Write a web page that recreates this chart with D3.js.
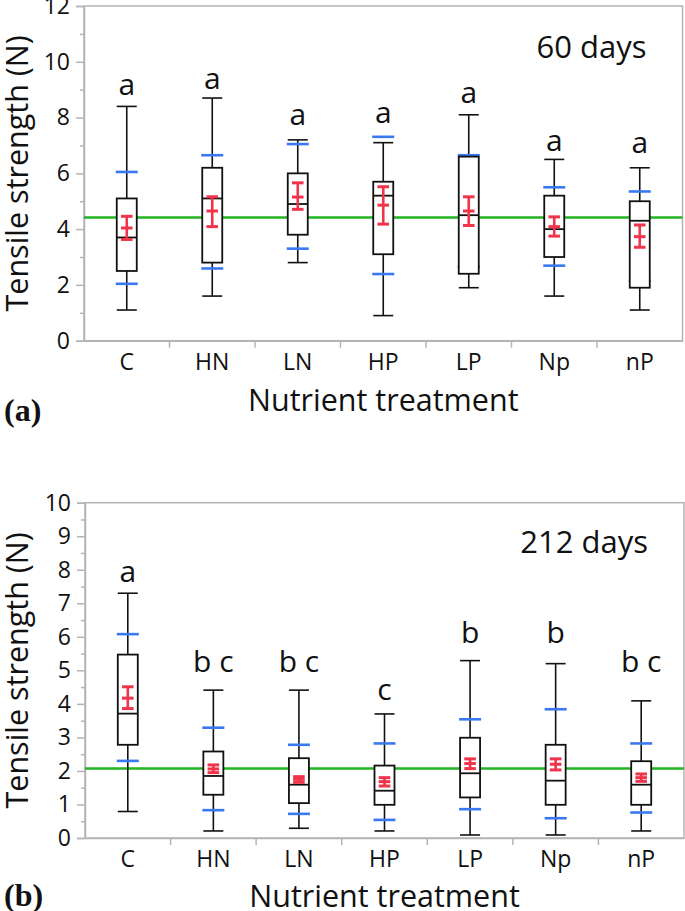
<!DOCTYPE html>
<html>
<head>
<meta charset="utf-8">
<script src="https://cdn.jsdelivr.net/npm/d3@7"></script>
<style>
  body { margin: 0; background: #fff; }
  text { font-family: "Open Sans", "Noto Sans", sans-serif; fill: #111; }
</style>
</head>
<body>
<script>
// tensile strength box plots, two sampling dates

var treatments = ["C", "HN", "LN", "HP", "LP", "Np", "nP"];

// 60 days
var lo60     = [1.1, 1.6, 2.8, 0.9, 1.9, 1.6, 1.1];
var q1_60    = [2.5, 2.8, 3.8, 3.1, 2.4, 3.0, 1.9];
var med60    = [3.7, 5.1, 4.9, 5.2, 4.5, 4.0, 4.3];
var q3_60    = [5.1, 6.2, 6.0, 5.7, 6.6, 5.2, 5.0];
var hi60     = [8.4, 8.7, 7.2, 7.1, 8.1, 6.5, 6.2];
var sdLo60   = [2.04, 2.59, 3.3, 2.39, 2.65, 2.69, 2.15];
var sdHi60   = [6.05, 6.65, 7.05, 7.31, 6.65, 5.5, 5.35];
var mean60   = [4.04, 4.65, 5.15, 4.86, 4.65, 4.09, 3.73];
var seLo60   = [3.63, 4.09, 4.71, 4.18, 4.13, 3.75, 3.35];
var seHi60   = [4.46, 5.16, 5.66, 5.52, 5.16, 4.44, 4.15];
var letters60 = ["a", "a", "a", "a", "a", "a", "a"];
var letterAt60 = [8.8, 9.02, 7.73, 7.79, 8.53, 6.81, 6.74];
var grand60 = 4.42;
var yTicks60 = [0, 2, 4, 6, 8, 10, 12];
var yMinor60 = [1, 3, 5, 7, 9, 11];

// 212 days
var lo212    = [0.79, 0.21, 0.29, 0.21, 0.09, 0.09, 0.21];
var q1_212   = [2.78, 1.29, 1.04, 0.99, 1.21, 0.99, 0.99];
var med212   = [3.71, 1.85, 1.59, 1.41, 1.93, 1.71, 1.59];
var q3_212   = [5.47, 2.58, 2.38, 2.16, 2.99, 2.78, 2.29];
var hi212    = [7.3, 4.41, 4.41, 3.7, 5.29, 5.2, 4.09];
var sdLo212  = [2.3, 0.83, 0.72, 0.54, 0.86, 0.59, 0.76];
var sdHi212  = [6.08, 3.29, 2.78, 2.82, 3.54, 3.84, 2.82];
var mean212  = [4.17, 2.06, 1.75, 1.68, 2.22, 2.2, 1.8];
var seLo212  = [3.86, 1.95, 1.66, 1.55, 2.07, 2.03, 1.69];
var seHi212  = [4.51, 2.18, 1.83, 1.8, 2.36, 2.36, 1.91];
var letters212 = ["a", "b c", "b c", "c", "b", "b", "b c"];
var letterAt212 = [7.64, 4.96, 4.96, 4.12, 5.81, 5.81, 4.96];
var grand212 = 2.07;
var yTicks212 = [0, 1, 2, 3, 4, 5, 6, 7, 8, 9, 10];
var yMinor212 = [0.5, 1.5, 2.5, 3.5, 4.5, 5.5, 6.5, 7.5, 8.5, 9.5];

var svg = d3.select("body").append("svg").attr("width", 685).attr("height", 911);

function drawPanel(p) {
  var x = d3.scaleBand().domain(treatments).range([p.left, p.right]);
  var y = d3.scaleLinear().domain([0, p.yMax]).range([p.bottom, p.top]);
  var g = svg.append("g");
  var cx = function(i){ return x(treatments[i]) + x.bandwidth() / 2; };
  var grey = "#b4b4b4";

  // frame
  g.append("rect").attr("x", p.left).attr("y", p.top)
    .attr("width", p.right - p.left).attr("height", p.bottom - p.top)
    .attr("fill", "none").attr("stroke", grey).attr("stroke-width", 1.5);

  // y axis
  var yAxis = d3.axisLeft(y).tickValues(p.ticks).tickSize(8).tickPadding(6).tickFormat(d3.format("d"));
  var ya = g.append("g").attr("transform", "translate(" + p.left + ",0)").call(yAxis);
  ya.select(".domain").attr("stroke", grey).attr("stroke-width", 1.5);
  ya.selectAll(".tick line").attr("stroke", grey).attr("stroke-width", 1.5);
  ya.selectAll(".tick text").style("font-size", "23px").attr("fill", "#111");
  var ym = g.append("g").attr("transform", "translate(" + p.left + ",0)")
    .call(d3.axisLeft(y).tickValues(p.minor).tickSize(4).tickFormat(""));
  ym.select(".domain").remove();
  ym.selectAll(".tick line").attr("stroke", grey).attr("stroke-width", 1.5);

  // x axis: ticks on the category boundaries
  var xa = g.append("g").attr("transform", "translate(0," + p.bottom + ")")
    .call(d3.axisBottom(x).tickSize(0).tickPadding(13));
  xa.select(".domain").attr("stroke", grey).attr("stroke-width", 1.5);
  xa.selectAll(".tick text").style("font-size", "23px").attr("fill", "#111")
    .attr("dy", "0.71em");
  g.selectAll(".xsep").data(treatments.slice(1)).enter().append("line")
    .attr("x1", function(d){ return x(d); }).attr("x2", function(d){ return x(d); })
    .attr("y1", p.bottom).attr("y2", p.bottom + 7)
    .attr("stroke", grey).attr("stroke-width", 1.5);

  // grand mean
  g.append("line").attr("x1", p.left).attr("x2", p.right)
    .attr("y1", y(p.grand)).attr("y2", y(p.grand))
    .attr("stroke", "#22b422").attr("stroke-width", 2.5);

  var idx = d3.range(treatments.length);

  // whiskers
  g.selectAll(".whisk").data(idx).enter().append("line")
    .attr("x1", cx).attr("x2", cx)
    .attr("y1", function(i){ return y(p.lo[i]); }).attr("y2", function(i){ return y(p.hi[i]); })
    .attr("stroke", "#111").attr("stroke-width", 1.6);
  [p.lo, p.hi].forEach(function(arr){
    g.selectAll(null).data(idx).enter().append("line")
      .attr("x1", function(i){ return cx(i) - 10; }).attr("x2", function(i){ return cx(i) + 10; })
      .attr("y1", function(i){ return y(arr[i]); }).attr("y2", function(i){ return y(arr[i]); })
      .attr("stroke", "#111").attr("stroke-width", 1.6);
  });

  // blue lines
  [p.sdLo, p.sdHi].forEach(function(arr){
    g.selectAll(null).data(idx).enter().append("line")
      .attr("x1", function(i){ return cx(i) - 11; }).attr("x2", function(i){ return cx(i) + 11; })
      .attr("y1", function(i){ return y(arr[i]); }).attr("y2", function(i){ return y(arr[i]); })
      .attr("stroke", "#3a78f2").attr("stroke-width", 2.6);
  });

  // boxes
  g.selectAll(".box").data(idx).enter().append("rect")
    .attr("x", function(i){ return cx(i) - 10; }).attr("width", 20)
    .attr("y", function(i){ return y(p.q3[i]); })
    .attr("height", function(i){ return y(p.q1[i]) - y(p.q3[i]); })
    .attr("fill", "#fff").attr("stroke", "#111").attr("stroke-width", 1.8);
  g.selectAll(".med").data(idx).enter().append("line")
    .attr("x1", function(i){ return cx(i) - 10; }).attr("x2", function(i){ return cx(i) + 10; })
    .attr("y1", function(i){ return y(p.med[i]); }).attr("y2", function(i){ return y(p.med[i]); })
    .attr("stroke", "#111").attr("stroke-width", 1.8);

  // mean +- error
  var red = "#f0344c";
  g.selectAll(".err").data(idx).enter().append("line")
    .attr("x1", cx).attr("x2", cx)
    .attr("y1", function(i){ return y(p.seLo[i]); }).attr("y2", function(i){ return y(p.seHi[i]); })
    .attr("stroke", red).attr("stroke-width", 2.6);
  [p.seLo, p.seHi, p.mean].forEach(function(arr){
    g.selectAll(null).data(idx).enter().append("line")
      .attr("x1", function(i){ return cx(i) - 5.8; }).attr("x2", function(i){ return cx(i) + 5.8; })
      .attr("y1", function(i){ return y(arr[i]); }).attr("y2", function(i){ return y(arr[i]); })
      .attr("stroke", red).attr("stroke-width", 3);
  });

  // significance letters
  g.selectAll(".letter").data(idx).enter().append("text")
    .attr("x", cx).attr("y", function(i){ return y(p.letterAt[i]); })
    .attr("text-anchor", "middle").style("font-size", "30px")
    .text(function(i){ return p.letters[i]; });

  // day label
  g.append("text").attr("x", p.right - 36).attr("y", p.dayY)
    .attr("text-anchor", "end").style("font-size", "31px").text(p.day);

  // axis titles
  g.append("text").attr("x", (p.left + p.right) / 2).attr("y", p.xTitleY)
    .attr("text-anchor", "middle").style("font-size", "30.5px").text("Nutrient treatment");
  g.append("text").attr("transform", "translate(28," + (p.top + p.bottom) / 2 + ") rotate(-90)")
    .attr("text-anchor", "middle").style("font-size", "30.5px").text("Tensile strength (N)");

  // panel tag
  g.append("text").attr("x", 4).attr("y", p.tagY)
    .style("font-family", "'Liberation Serif', 'Times New Roman', serif")
    .style("font-weight", "bold").style("font-size", "32px").text(p.tag);
}

drawPanel({
  left: 84, right: 682.5, top: 6, bottom: 340.7, yMax: 12,
  ticks: yTicks60, minor: yMinor60,
  lo: lo60, q1: q1_60, med: med60, q3: q3_60, hi: hi60,
  sdLo: sdLo60, sdHi: sdHi60, mean: mean60, seLo: seLo60, seHi: seHi60,
  letters: letters60, letterAt: letterAt60, grand: grand60,
  day: "60 days", dayY: 58, xTitleY: 411, tag: "(a)", tagY: 421
});

drawPanel({
  left: 85, right: 684, top: 502.7, bottom: 838, yMax: 10,
  ticks: yTicks212, minor: yMinor212,
  lo: lo212, q1: q1_212, med: med212, q3: q3_212, hi: hi212,
  sdLo: sdLo212, sdHi: sdHi212, mean: mean212, seLo: seLo212, seHi: seHi212,
  letters: letters212, letterAt: letterAt212, grand: grand212,
  day: "212 days", dayY: 553, xTitleY: 907, tag: "(b)", tagY: 906
});
</script>
</body>
</html>
